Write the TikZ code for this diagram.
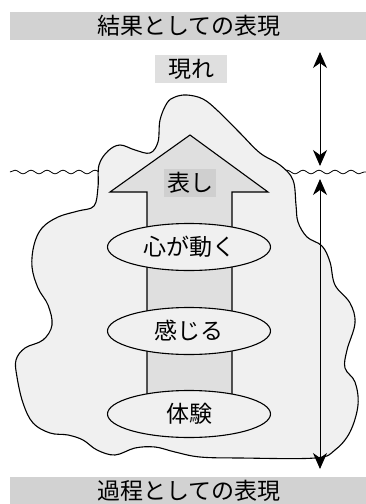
\documentclass[tikz,border=0pt]{standalone}
\usepackage{fontspec}
\newfontfamily\jp{Noto Sans CJK JP}
\usetikzlibrary{arrows.meta,shapes.geometric,decorations.pathmorphing}

\tikzset{
  jtext/.style={font=\jp\fontsize{23}{26}\selectfont, inner sep=0pt},
  banner/.style={fill=gray!35, draw=none},
  stage/.style={ellipse, draw, line width=1.1pt, fill=gray!12, minimum width=163pt,
    minimum height=47pt, inner sep=0pt, font=\jp\fontsize{23}{26}\selectfont},
  span/.style={line width=1pt, >={Stealth[length=16pt, width=14pt, inset=5pt]}, <->}
}

\begin{document}
\begin{tikzpicture}[x=1pt, y=-1pt]
  \useasboundingbox (0,0) rectangle (366,504);

  % banners
  \fill[banner] (10,12) rectangle (366,40);
  \fill[banner] (10,477) rectangle (366,504);
  \node[jtext] (result) at (189,26) {結果としての表現};
  \node[jtext] (process) at (189,491) {過程としての表現};

  % surface line
  \draw[line width=0.8pt, decorate, decoration={snake, segment length=16pt, amplitude=1.8pt}]
    (10,172) -- (366,172);

  % iceberg
  \draw[line width=1.1pt, fill=gray!12] plot[smooth cycle, tension=0.6] coordinates {
    (187,95) (203,99) (218,111) (240,133) (260,153) (280,165) (293,180)
    (296,205) (298,222) (307,237) (322,246) (330,262) (335,285) (350,303)
    (355,323) (347,350) (345,368) (355,382) (358,405) (350,432) (335,450)
    (315,458) (240,458) (200,457) (175,452) (155,447) (135,448) (115,455)
    (97,450) (83,440) (68,435) (50,433) (33,423) (23,403) (17,377) (16,360)
    (25,348) (43,340) (52,325) (48,305) (38,288) (32,267) (34,245) (42,228)
    (58,217) (78,211) (94,206) (98,187) (99,165) (108,151) (120,145)
    (135,150) (150,153) (158,142) (160,120) (167,103) (175,97)};

  % upward arrow
  \draw[line width=1.1pt, fill=gray!25] (147,405) -- (147,192) -- (110,192) -- (190,135)
    -- (268,192) -- (232,192) -- (232,405) -- cycle;
  \node[jtext, fill=gray!38, inner sep=3pt] (show) at (190,183) {表し};

  \node[stage] (kokoro) at (189,247) {心が動く};
  \node[stage] (kanjiru) at (189,331) {感じる};
  \node[stage] (taiken) at (189,414) {体験};

  \node[jtext, fill=gray!25, minimum width=72pt, minimum height=28pt] (arawa) at (191,69) {現れ};

  % ranges
  \coordinate (t1) at (320,52);
  \coordinate (b1) at (320,166);
  \coordinate (t2) at (320,179);
  \coordinate (b2) at (320,469);
  \draw[span] (t1) -- (b1);
  \draw[span] (t2) -- (b2);
\end{tikzpicture}
\end{document}
